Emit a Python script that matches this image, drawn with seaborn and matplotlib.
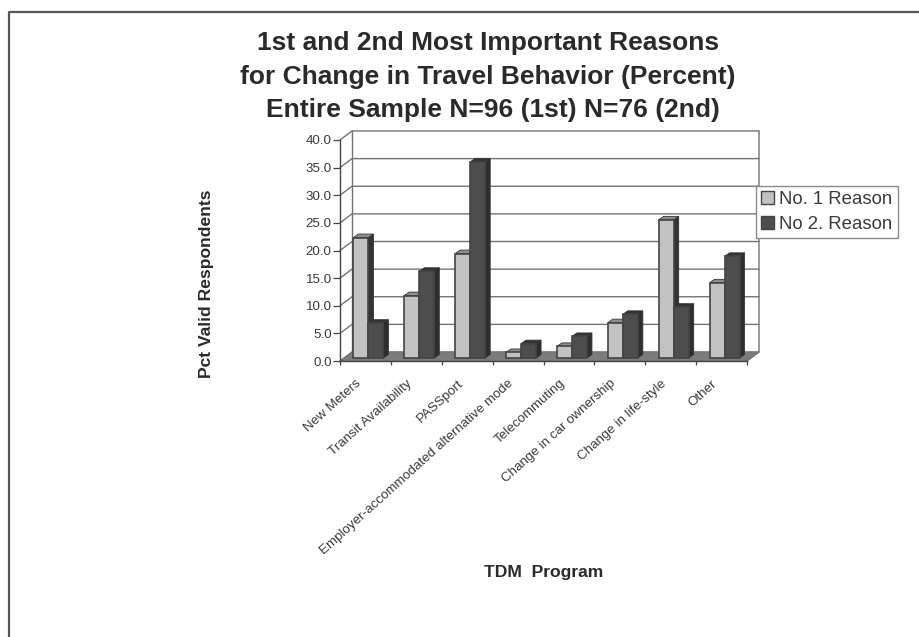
import matplotlib
matplotlib.use("Agg")
import matplotlib.pyplot as plt
import pandas as pd
import seaborn as sns
from matplotlib.lines import Line2D
from matplotlib.patches import Polygon, Patch
from matplotlib.transforms import Affine2D, IdentityTransform

categories = ["New Meters", "Transit Availability", "PASSport",
              "Employer-accommodated alternative mode", "Telecommuting",
              "Change in car ownership", "Change in life-style", "Other"]
reason_1 = [21.8, 11.3, 18.9, 1.0, 2.1, 6.4, 25.0, 13.6]
reason_2 = [6.3, 15.7, 35.5, 2.6, 3.9, 7.9, 9.2, 18.4]
series_names = ["No. 1 Reason", "No 2. Reason"]
title_lines = ["1st and 2nd Most Important Reasons",
               "for Change in Travel Behavior (Percent)",
               "Entire Sample N=96 (1st) N=76 (2nd)"]
y_ticks = [0, 5, 10, 15, 20, 25, 30, 35, 40]

W, H = 919, 637
LIGHT, DARK = "#c2c2c2", "#4d4d4d"
SIDES = {0: ("#333333", "#8e8e8e"), 1: ("#2e2e2e", "#333333")}
EDGE, TEXT, GRID = "#444444", "#3a3a3a", "#737373"
WALL_DX, WALL_DY = 12, 9     # depth of the chart box, px
BAR_DX, BAR_DY = 3, 3        # where bars sit inside that depth, px
TOP_DX, TOP_DY = 5, 3.5      # depth of each bar, px

sns.set_theme(style="white")
plt.rcParams["font.family"] = ["Liberation Sans", "DejaVu Sans"]

df = pd.DataFrame({
    "program": categories * 2,
    "pct": reason_1 + reason_2,
    "reason": [series_names[0]] * len(categories) + [series_names[1]] * len(categories),
})

fig = plt.figure(figsize=(W / 100, H / 100), dpi=100, facecolor="white")
ax = fig.add_axes([340 / W, (H - 361) / H, 407 / W, 221 / H])
sns.barplot(data=df, x="program", y="pct", hue="reason", hue_order=series_names,
            palette=[LIGHT, DARK], width=0.59, gap=0, errorbar=None, saturation=1,
            edgecolor=EDGE, linewidth=1.2, legend=False, ax=ax, zorder=5)
ax.set_xlim(-0.5, len(categories) - 0.5)
ax.set_ylim(0, 40)
ax.patch.set_alpha(0)
for s in ("top", "right"):
    ax.spines[s].set_visible(False)
for s in ("left", "bottom"):
    ax.spines[s].set_color(EDGE)
    ax.spines[s].set_linewidth(1.0)

# Back wall, gridlines, floor
T = ax.transData
x0, x1 = ax.get_xlim()
for v in y_ticks:
    a = T.transform((x0, v))
    b = T.transform((x1, v))
    ax.add_line(Line2D([a[0], a[0] + WALL_DX, b[0] + WALL_DX], [a[1], a[1] + WALL_DY, b[1] + WALL_DY],
                       transform=IdentityTransform(), color=GRID, lw=1.0, zorder=1, clip_on=False))
a = T.transform((x0, 0)); b = T.transform((x0, 40))
ax.add_line(Line2D([a[0] + WALL_DX, b[0] + WALL_DX], [a[1] + WALL_DY, b[1] + WALL_DY],
                   transform=IdentityTransform(), color=GRID, lw=1.0, zorder=1, clip_on=False))
a = T.transform((x1, 0)); b = T.transform((x1, 40))
ax.add_line(Line2D([a[0], a[0] + WALL_DX, b[0] + WALL_DX], [a[1], a[1] + WALL_DY, b[1] + WALL_DY],
                   transform=IdentityTransform(), color=GRID, lw=1.0, zorder=1, clip_on=False))
f0 = T.transform((x0, 0)); f1 = T.transform((x1, 0))
ax.add_patch(Polygon([f0, (f0[0] + WALL_DX, f0[1] + WALL_DY), (f1[0] + WALL_DX, f1[1] + WALL_DY), f1],
                     closed=True, transform=IdentityTransform(), facecolor="#7c7c7c",
                     edgecolor=GRID, lw=0.6, zorder=2, clip_on=False))

# Extrude the bars seaborn drew
shift = Affine2D().translate(BAR_DX, BAR_DY)
for k, container in enumerate(ax.containers):
    side_c, top_c = SIDES[k]
    for bar in container:
        (xa, ya), (xb, yb) = T.transform([(bar.get_x(), 0),
                                          (bar.get_x() + bar.get_width(), bar.get_height())])
        xa += BAR_DX; xb += BAR_DX; ya += BAR_DY; yb += BAR_DY
        z = 3 + k * 3
        ax.add_patch(Polygon([(xb, ya), (xb + TOP_DX, ya + TOP_DY), (xb + TOP_DX, yb + TOP_DY), (xb, yb)],
                             closed=True, transform=IdentityTransform(), facecolor=side_c,
                             edgecolor="#333333", lw=0.6, zorder=z, clip_on=False))
        ax.add_patch(Polygon([(xa, yb), (xa + TOP_DX, yb + TOP_DY), (xb + TOP_DX, yb + TOP_DY), (xb, yb)],
                             closed=True, transform=IdentityTransform(), facecolor=top_c,
                             edgecolor="#333333", lw=0.6, zorder=z, clip_on=False))
        bar.set_transform(T + shift)
        bar.set_zorder(z + 1)
        bar.set_clip_on(False)

# Ticks
ax.set_yticks(y_ticks, [f"{v:.1f}" for v in y_ticks])
ax.tick_params(axis="y", length=5, width=0.9, color=EDGE, pad=1, labelsize=9.6, labelcolor=TEXT, left=True)
ax.set_xticks(range(len(categories)))
ax.set_xticklabels(categories, rotation=42, ha="right", va="top", rotation_mode="anchor",
                   fontsize=9.6, color=TEXT)
ax.set_xticks([i - 0.5 for i in range(len(categories) + 1)], minor=True)
ax.tick_params(axis="x", which="major", length=0, pad=9)
ax.tick_params(axis="x", which="minor", length=3, width=0.9, color=EDGE, bottom=True)
label_nudge = Affine2D().translate(-10, -4)
for lab in ax.get_xticklabels():
    lab.set_transform(lab.get_transform() + label_nudge)
ax.set_xlabel("")
ax.set_ylabel("")

# Titles and axis names
for line, x, y in zip(title_lines, (488.5, 488, 493), (50, 84, 117)):
    fig.text(x / W, 1 - y / H, line, ha="center", va="baseline", fontsize=19, fontweight="bold", color="#2a2a2a")
fig.text(206 / W, 1 - 284 / H, "Pct Valid Respondents", rotation=90, ha="center", va="center",
         fontsize=12.6, fontweight="bold", color="#2a2a2a")
fig.text(544 / W, 1 - 573 / H, "TDM  Program", ha="center", va="center",
         fontsize=12.6, fontweight="bold", color="#2a2a2a")

# Legend
handles = [Patch(facecolor=LIGHT, edgecolor=EDGE, lw=1.0), Patch(facecolor=DARK, edgecolor=EDGE, lw=1.0)]
leg = fig.legend(handles, series_names, loc="center left", bbox_to_anchor=(756 / W, 1 - 212 / H),
                 frameon=True, fancybox=False, framealpha=1, facecolor="white", edgecolor="#8a8a8a",
                 fontsize=13.4, labelcolor=TEXT, handlelength=0.7, handleheight=0.7, handletextpad=0.3,
                 labelspacing=0.46, borderpad=0.26, borderaxespad=0)
leg.set_zorder(20)

# Page border
fig.add_artist(Line2D([8.5 / W, 8.5 / W, 1], [0, 1 - 12 / H, 1 - 12 / H], transform=fig.transFigure,
                      color="#555555", lw=1.6))

fig.savefig("out.png", dpi=100, facecolor="white")
